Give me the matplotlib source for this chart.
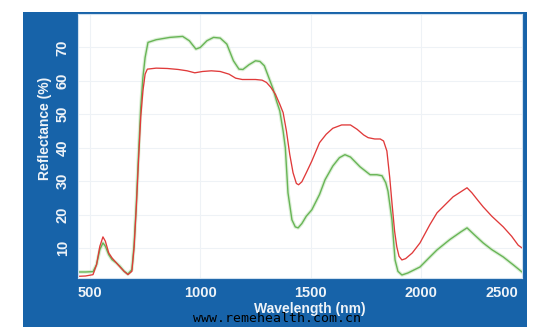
import matplotlib
matplotlib.use("Agg")
import matplotlib.pyplot as plt
from matplotlib.patches import Rectangle

# reflectance spectra
red_nm = [446, 480, 514, 530, 545, 559, 570, 585, 600, 620, 636, 655, 672, 690,
          700, 710, 720, 730, 740, 750, 760, 800, 850, 900, 940, 975, 1010, 1050,
          1090, 1130, 1160, 1190, 1250, 1280, 1300, 1320, 1340, 1360, 1375, 1390,
          1405, 1420, 1435, 1445, 1460, 1480, 1505, 1540, 1570, 1600, 1640, 1680,
          1710, 1740, 1760, 1790, 1815, 1830, 1845, 1858, 1868, 1880, 1890, 1900,
          1913, 1930, 1960, 1995, 2040, 2072, 2110, 2145, 2180, 2208, 2230, 2260,
          2281, 2320, 2372, 2410, 2440, 2457]
red_refl = [1.5, 1.6, 2.0, 5, 10.5, 13.3, 12, 8.5, 7, 5.5, 4.3, 3, 2.0, 3,
            10, 22, 36, 49, 57, 62, 63.5, 63.8, 63.7, 63.4, 63, 62.4, 62.8, 63,
            62.8, 62, 60.8, 60.4, 60.4, 60.2, 59.5, 58, 56, 53, 50.5, 45,
            38, 32.5, 29.3, 28.9, 29.8, 32.5, 36, 41.5, 44, 45.8, 46.8, 46.8,
            45.5, 43.8, 43, 42.6, 42.6, 42, 39, 31, 23.5, 15, 10.3, 7.5,
            6.4, 6.8, 8.5, 11.5, 17, 20.5, 23, 25.3, 26.8, 28, 26.5, 24,
            22.3, 19.5, 16.3, 13.5, 10.8, 10]

green_nm = [446, 480, 514, 530, 545, 559, 570, 585, 600, 620, 636, 655, 672, 690,
            700, 710, 720, 730, 740, 750, 763, 800, 862, 920, 950, 980, 1000, 1030,
            1060, 1090, 1120, 1150, 1175, 1193, 1220, 1250, 1270, 1290, 1310, 1330,
            1345, 1360, 1375, 1385, 1397, 1415, 1430, 1443, 1460, 1480, 1505, 1540,
            1565, 1600, 1630, 1655, 1680, 1723, 1769, 1800, 1823, 1840, 1850, 1868,
            1882, 1895, 1913, 1940, 1995, 2040, 2072, 2130, 2180, 2208, 2240, 2281,
            2320, 2372, 2420, 2457]
green_refl = [2.8, 2.8, 2.9, 5, 9.5, 11.5, 10.5, 8, 6.5, 5.5, 4.5, 3, 2.2, 3.5,
              11, 23, 38, 52, 61, 67, 71.5, 72.3, 73, 73.3, 72, 69.5, 70, 72,
              73, 72.8, 71, 66, 63.5, 63.4, 64.8, 66, 65.8, 64.5, 61, 57.5,
              54, 51, 45, 40, 26.5, 18.4, 16.3, 16, 17.3, 19.5, 21.4, 26,
              30.4, 34.5, 37, 37.9, 37.2, 34.3, 31.9, 31.9, 31.6, 29.5, 27, 18.4,
              6.4, 3, 1.9, 2.5, 4.3, 7.3, 9.4, 12.5, 14.8, 16, 14, 11.5,
              9.5, 7.3, 4.8, 2.8]

x_ticks = [500, 1000, 1500, 2000]
y_ticks = [10, 20, 30, 40, 50, 60, 70]

blue = "#1763a9"
text_col = "#eef3f8"
label_font = ["Liberation Sans Narrow", "Liberation Sans", "DejaVu Sans"]

fig = plt.figure(figsize=(5.55, 3.33), dpi=100)
fig.patch.set_facecolor("white")

# blue frame behind the plot
fig.patches.append(Rectangle((23 / 555, 6 / 333), 504 / 555, 315 / 333,
                             transform=fig.transFigure, facecolor=blue,
                             edgecolor="none", zorder=-5))

ax = fig.add_axes([78 / 555, 55 / 333, 444 / 555, 264 / 333])
ax.set_zorder(2)
ax.set_facecolor("white")

# green curve gets a soft halo like in the scan
ax.plot(green_nm, green_refl, color="#b5ddaa", linewidth=2.6, alpha=0.45)
ax.plot(green_nm, green_refl, color="#68b556", linewidth=1.0)
ax.plot(red_nm, red_refl, color="#e03a3a", linewidth=0.95)

ax.set_xlim(446, 2457)
ax.set_ylim(1, 80)
ax.set_xticks(x_ticks)
ax.set_yticks(y_ticks)
ax.grid(True, color="#eef2f6", linewidth=0.8)
ax.tick_params(length=0, colors=text_col, pad=6)
for lab in ax.get_xticklabels():
    lab.set_fontfamily(label_font)
    lab.set_fontweight("bold")
    lab.set_fontsize(10.5)
for lab in ax.get_yticklabels():
    lab.set_fontfamily(label_font)
    lab.set_fontweight("bold")
    lab.set_fontsize(10.5)
    lab.set_rotation(90)
    lab.set_va("center")
for s in ax.spines.values():
    s.set_color("#cfe0ef")
    s.set_linewidth(0.8)

# last x label sits pulled in at the right edge
ax.text(0.955, -0.058, "2500", transform=ax.transAxes, ha="center", va="center",
        color=text_col, fontweight="bold", fontsize=10.5, family=label_font)

fig.text(45 / 555, 1 - 128 / 333, "Reflectance (%)", rotation=90, ha="center",
         va="center", color=text_col, fontweight="bold", fontsize=10,
         family=label_font)
fig.text(310 / 555, 1 - 309 / 333, "Wavelength (nm)", ha="center", va="center",
         color=text_col, fontweight="bold", fontsize=10, family=label_font)
fig.text(277 / 555, 1 - 318 / 333, "www.remehealth.com.cn", ha="center",
         va="center", color="black", fontsize=9.5, family="DejaVu Sans Mono",
         zorder=5)

fig.savefig("out.png", dpi=100, facecolor="white")
